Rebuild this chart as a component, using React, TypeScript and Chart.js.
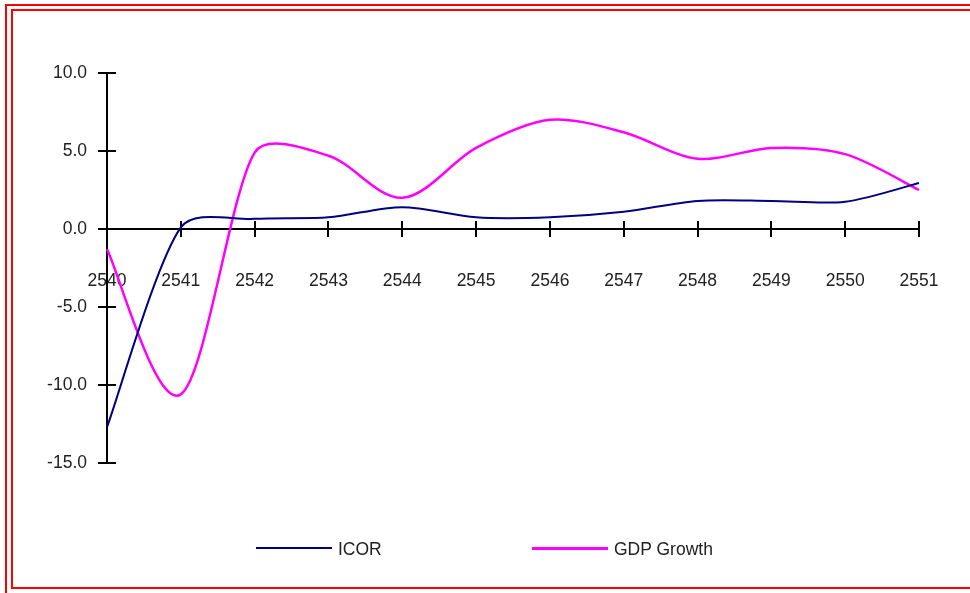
import React, { useEffect, useRef } from "react";
import { Chart, registerables } from "chart.js";

Chart.register(...registerables);

// ---- data ----
const years = ["2540", "2541", "2542", "2543", "2544", "2545", "2546", "2547", "2548", "2549", "2550", "2551"];
const icor = [-12.7, 0.1, 0.65, 0.75, 1.4, 0.75, 0.75, 1.1, 1.8, 1.8, 1.75, 2.95];
const gdpGrowth = [-1.3, -10.6, 4.9, 4.7, 2.0, 5.2, 7.0, 6.2, 4.5, 5.2, 4.8, 2.5];
const yTicks = [-15, -10, -5, 0, 5, 10];
const seriesNames = ["ICOR", "GDP Growth"];
const seriesColors = ["#000080", "#FF00FF"];

const FONT = "'Liberation Sans', Arial, sans-serif";
const FONT_SIZE = 17.5;
const TEXT_COLOR = "#222";

// Spreadsheet-style smoothing: Catmull-Rom tangents (1/6 of neighbour span),
// capped to a fraction of the adjacent segment length.
const SMOOTH_CAP = 0.3;
const spreadsheetSmooth = {
  id: "spreadsheetSmooth",
  beforeDatasetDraw(chart: any, args: any) {
    const meta = args.meta;
    const pts = meta.data;
    const n = pts.length;
    for (let i = 0; i < n; i++) {
      const p = pts[i];
      const prev = pts[Math.max(i - 1, 0)];
      const next = pts[Math.min(i + 1, n - 1)];
      const tx = (next.x - prev.x) / 6;
      const ty = (next.y - prev.y) / 6;
      const tl = Math.hypot(tx, ty);
      const dPrev = Math.hypot(p.x - prev.x, p.y - prev.y);
      const dNext = Math.hypot(next.x - p.x, next.y - p.y);
      const sPrev = tl > 0 ? Math.min(1, (SMOOTH_CAP * dPrev) / tl) : 0;
      const sNext = tl > 0 ? Math.min(1, (SMOOTH_CAP * dNext) / tl) : 0;
      p.cp1x = p.x - tx * sPrev;
      p.cp1y = p.y - ty * sPrev;
      p.cp2x = p.x + tx * sNext;
      p.cp2y = p.y + ty * sNext;
    }
    if (meta.dataset) {
      meta.dataset._pointsUpdated = true;
      meta.dataset._path = undefined;
    }
  },
};

const crossTicks = {
  id: "crossTicks",
  beforeDatasetsDraw(chart: any) {
    const { ctx, scales, chartArea } = chart;
    const xs = scales.x;
    const ys = scales.y;
    const y0 = Math.round(ys.getPixelForValue(0));
    const x0 = Math.round(chartArea.left);
    ctx.save();
    ctx.strokeStyle = "#000";
    ctx.lineWidth = 2;
    ctx.beginPath();
    xs.ticks.forEach((_: any, i: number) => {
      const px = Math.round(xs.getPixelForTick(i));
      ctx.moveTo(px, y0 - 8);
      ctx.lineTo(px, y0 + 8);
    });
    ys.ticks.forEach((t: any) => {
      const py = Math.round(ys.getPixelForValue(t.value));
      ctx.moveTo(x0 - 9, py);
      ctx.lineTo(x0 + 9, py);
    });
    ctx.stroke();
    ctx.restore();
  },
};

export default function App() {
  const canvasRef = useRef<HTMLCanvasElement | null>(null);

  useEffect(() => {
    const canvas = canvasRef.current;
    if (!canvas) return;
    const series = [icor, gdpGrowth];
    const chart = new Chart(canvas, {
      type: "line",
      data: {
        labels: years,
        datasets: series.map((values, i) => ({
          label: seriesNames[i],
          data: values,
          borderColor: seriesColors[i],
          backgroundColor: seriesColors[i],
          borderWidth: i === 0 ? 2 : 2.5,
          pointRadius: 0,
          pointHoverRadius: 0,
          tension: 0.4,
          fill: false,
        })),
      },
      options: {
        animation: false,
        responsive: false,
        maintainAspectRatio: false,
        events: [],
        layout: { padding: { top: 73, right: 51, bottom: 130, left: 0 } },
        plugins: {
          legend: { display: false },
          tooltip: { enabled: false },
          title: { display: false },
        },
        scales: {
          x: {
            type: "category",
            position: { y: 0 } as any,
            offset: false,
            grid: {
              display: true,
              drawOnChartArea: false,
              drawTicks: true,
              tickLength: 42,
              color: "rgba(0,0,0,0)",
            },
            border: { display: true, color: "#000", width: 2 },
            ticks: {
              padding: 0,
              autoSkip: false,
              maxRotation: 0,
              minRotation: 0,
              color: TEXT_COLOR,
              font: { family: FONT, size: FONT_SIZE },
            },
          },
          y: {
            type: "linear",
            min: -15,
            max: 10,
            grid: { display: false, drawTicks: false },
            border: { display: true, color: "#000", width: 2 },
            afterBuildTicks: (s: any) => {
              s.ticks = yTicks.map((v) => ({ value: v }));
            },
            afterFit: (s: any) => {
              s.width = 107;
            },
            ticks: {
              padding: 20,
              color: TEXT_COLOR,
              font: { family: FONT, size: FONT_SIZE },
              callback: (v: any) => Number(v).toFixed(1),
            },
          },
        },
      },
      plugins: [crossTicks, spreadsheetSmooth],
    });
    return () => chart.destroy();
  }, []);

  const legendLeft = [256, 532];

  return (
    <div
      style={{
        position: "fixed",
        left: 0,
        top: 0,
        width: 970,
        height: 593,
        overflow: "hidden",
        background: "#fff",
      }}
    >
      <div
        style={{
          position: "absolute",
          left: 5,
          top: 4,
          width: 2000,
          height: 2000,
          border: "2px solid #FF0000",
          boxSizing: "border-box",
        }}
      />
      <div
        style={{
          position: "absolute",
          left: 11,
          top: 9,
          width: 2000,
          height: 580,
          border: "2px solid #FF0000",
          boxSizing: "border-box",
        }}
      />
      <canvas
        ref={canvasRef}
        width={970}
        height={593}
        style={{ position: "absolute", left: 0, top: 0, width: 970, height: 593 }}
      />
      {seriesNames.map((name, i) => (
        <div
          key={name}
          style={{
            position: "absolute",
            left: legendLeft[i],
            top: 538,
            height: 22,
            display: "flex",
            alignItems: "center",
            fontFamily: FONT,
            fontSize: FONT_SIZE,
            color: TEXT_COLOR,
            whiteSpace: "nowrap",
          }}
        >
          <span
            style={{
              display: "inline-block",
              width: 76,
              height: i === 0 ? 2 : 3,
              background: seriesColors[i],
              marginTop: -2,
            }}
          />
          <span style={{ marginLeft: 6 }}>{name}</span>
        </div>
      ))}
    </div>
  );
}
